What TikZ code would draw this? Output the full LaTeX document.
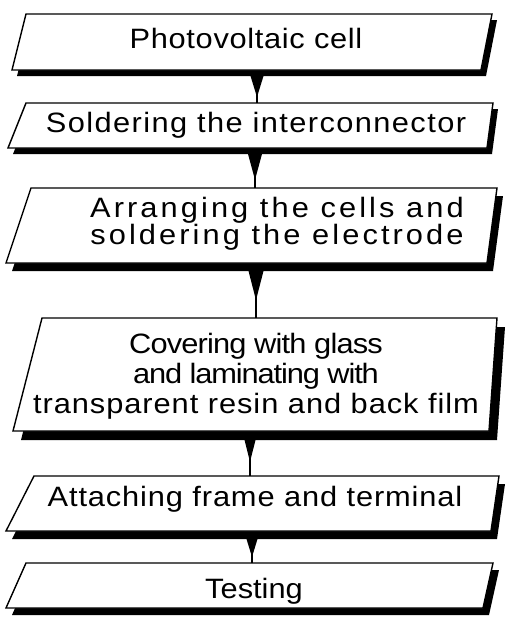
\documentclass[tikz,border=0pt]{standalone}
\usepackage{fontspec}
\setmainfont[FakeStretch=1.1]{Liberation Sans}
\usetikzlibrary{calc}
\newcommand{\ls}[2]{{\addfontfeature{LetterSpace=#1}#2}}
% name, tlx, trx, ty, blx, brx, by, shadow dx, dy
\newcommand{\pgram}[9]{%
  \fill[black, shift={(#8,#9)}] (#2,#4) -- (#3,#4) -- (#6,#7) -- (#5,#7) -- cycle;
  \draw[boxline, fill=white] (#2,#4) -- (#3,#4) -- (#6,#7) -- (#5,#7) -- cycle;
}
% from, to, half width, apex fraction
\newcommand{\flowconn}[4]{%
  \draw[conn] (#1) -- (#2);
  \fill[black] ($(#1)+(-#3,0)$) -- ($(#1)+(#3,0)$) -- ($(#1)!#4!(#2)$) -- cycle;
}
\begin{document}
\begin{tikzpicture}[x=1pt,y=-1pt,
  boxline/.style={line width=1.4pt, line join=miter},
  lbl/.style={inner sep=0pt, font=\fontsize{28}{30}\selectfont, align=center},
  conn/.style={line width=1.5pt}]
\useasboundingbox (0,0) rectangle (508,635);

% boxes
\pgram{b1}{26}{492}{14}{12}{481}{70}{5}{6}
\pgram{b2}{26}{493}{103}{8}{487}{148}{5}{6}
\pgram{b3}{31}{497}{188}{6}{487}{263}{6}{8}
\pgram{b4}{42}{497}{318}{13}{489}{431}{8}{9}
\pgram{b5}{34}{499}{476}{6}{491}{531}{6}{8}
\pgram{b6}{26}{493}{563}{6}{483}{608}{6}{7}

% labels
\node[lbl, anchor=base] (t1) at (246,48) {\ls{2.4}{Photovoltaic cell}};
\node[lbl, anchor=base] (t2) at (256,132) {\ls{5}{Soldering the interconnector}};
\node[lbl, anchor=center] (t3) at (277,224) {\ls{11}{Arranging the cells and}\\[-3pt]\ls{11}{soldering the electrode}};
\node[lbl, anchor=center] (t4) at (256,376) {\ls{-3}{Covering with glass}\\\ls{-4}{and laminating with}\\\ls{3.4}{transparent resin and back film}};
\node[lbl, anchor=base] (t5) at (255,506) {\ls{3.1}{Attaching frame and terminal}};
\node[lbl, anchor=base] (t6) at (254,598) {Testing};

% connector ends
\coordinate (s1) at (257,76);
\coordinate (n2) at (257,103);
\coordinate (s2) at (255,154);
\coordinate (n3) at (255,188);
\coordinate (s3) at (256,271);
\coordinate (n4) at (256,318);
\coordinate (s4) at (250,440);
\coordinate (n5) at (250,476);
\coordinate (s5) at (252,539);
\coordinate (n6) at (252,563);

\flowconn{s1}{n2}{6.5}{0.78}
\flowconn{s2}{n3}{7}{0.76}
\flowconn{s3}{n4}{7.5}{0.62}
\flowconn{s4}{n5}{5.5}{0.61}
\flowconn{s5}{n6}{5.5}{0.75}
\end{tikzpicture}
\end{document}
